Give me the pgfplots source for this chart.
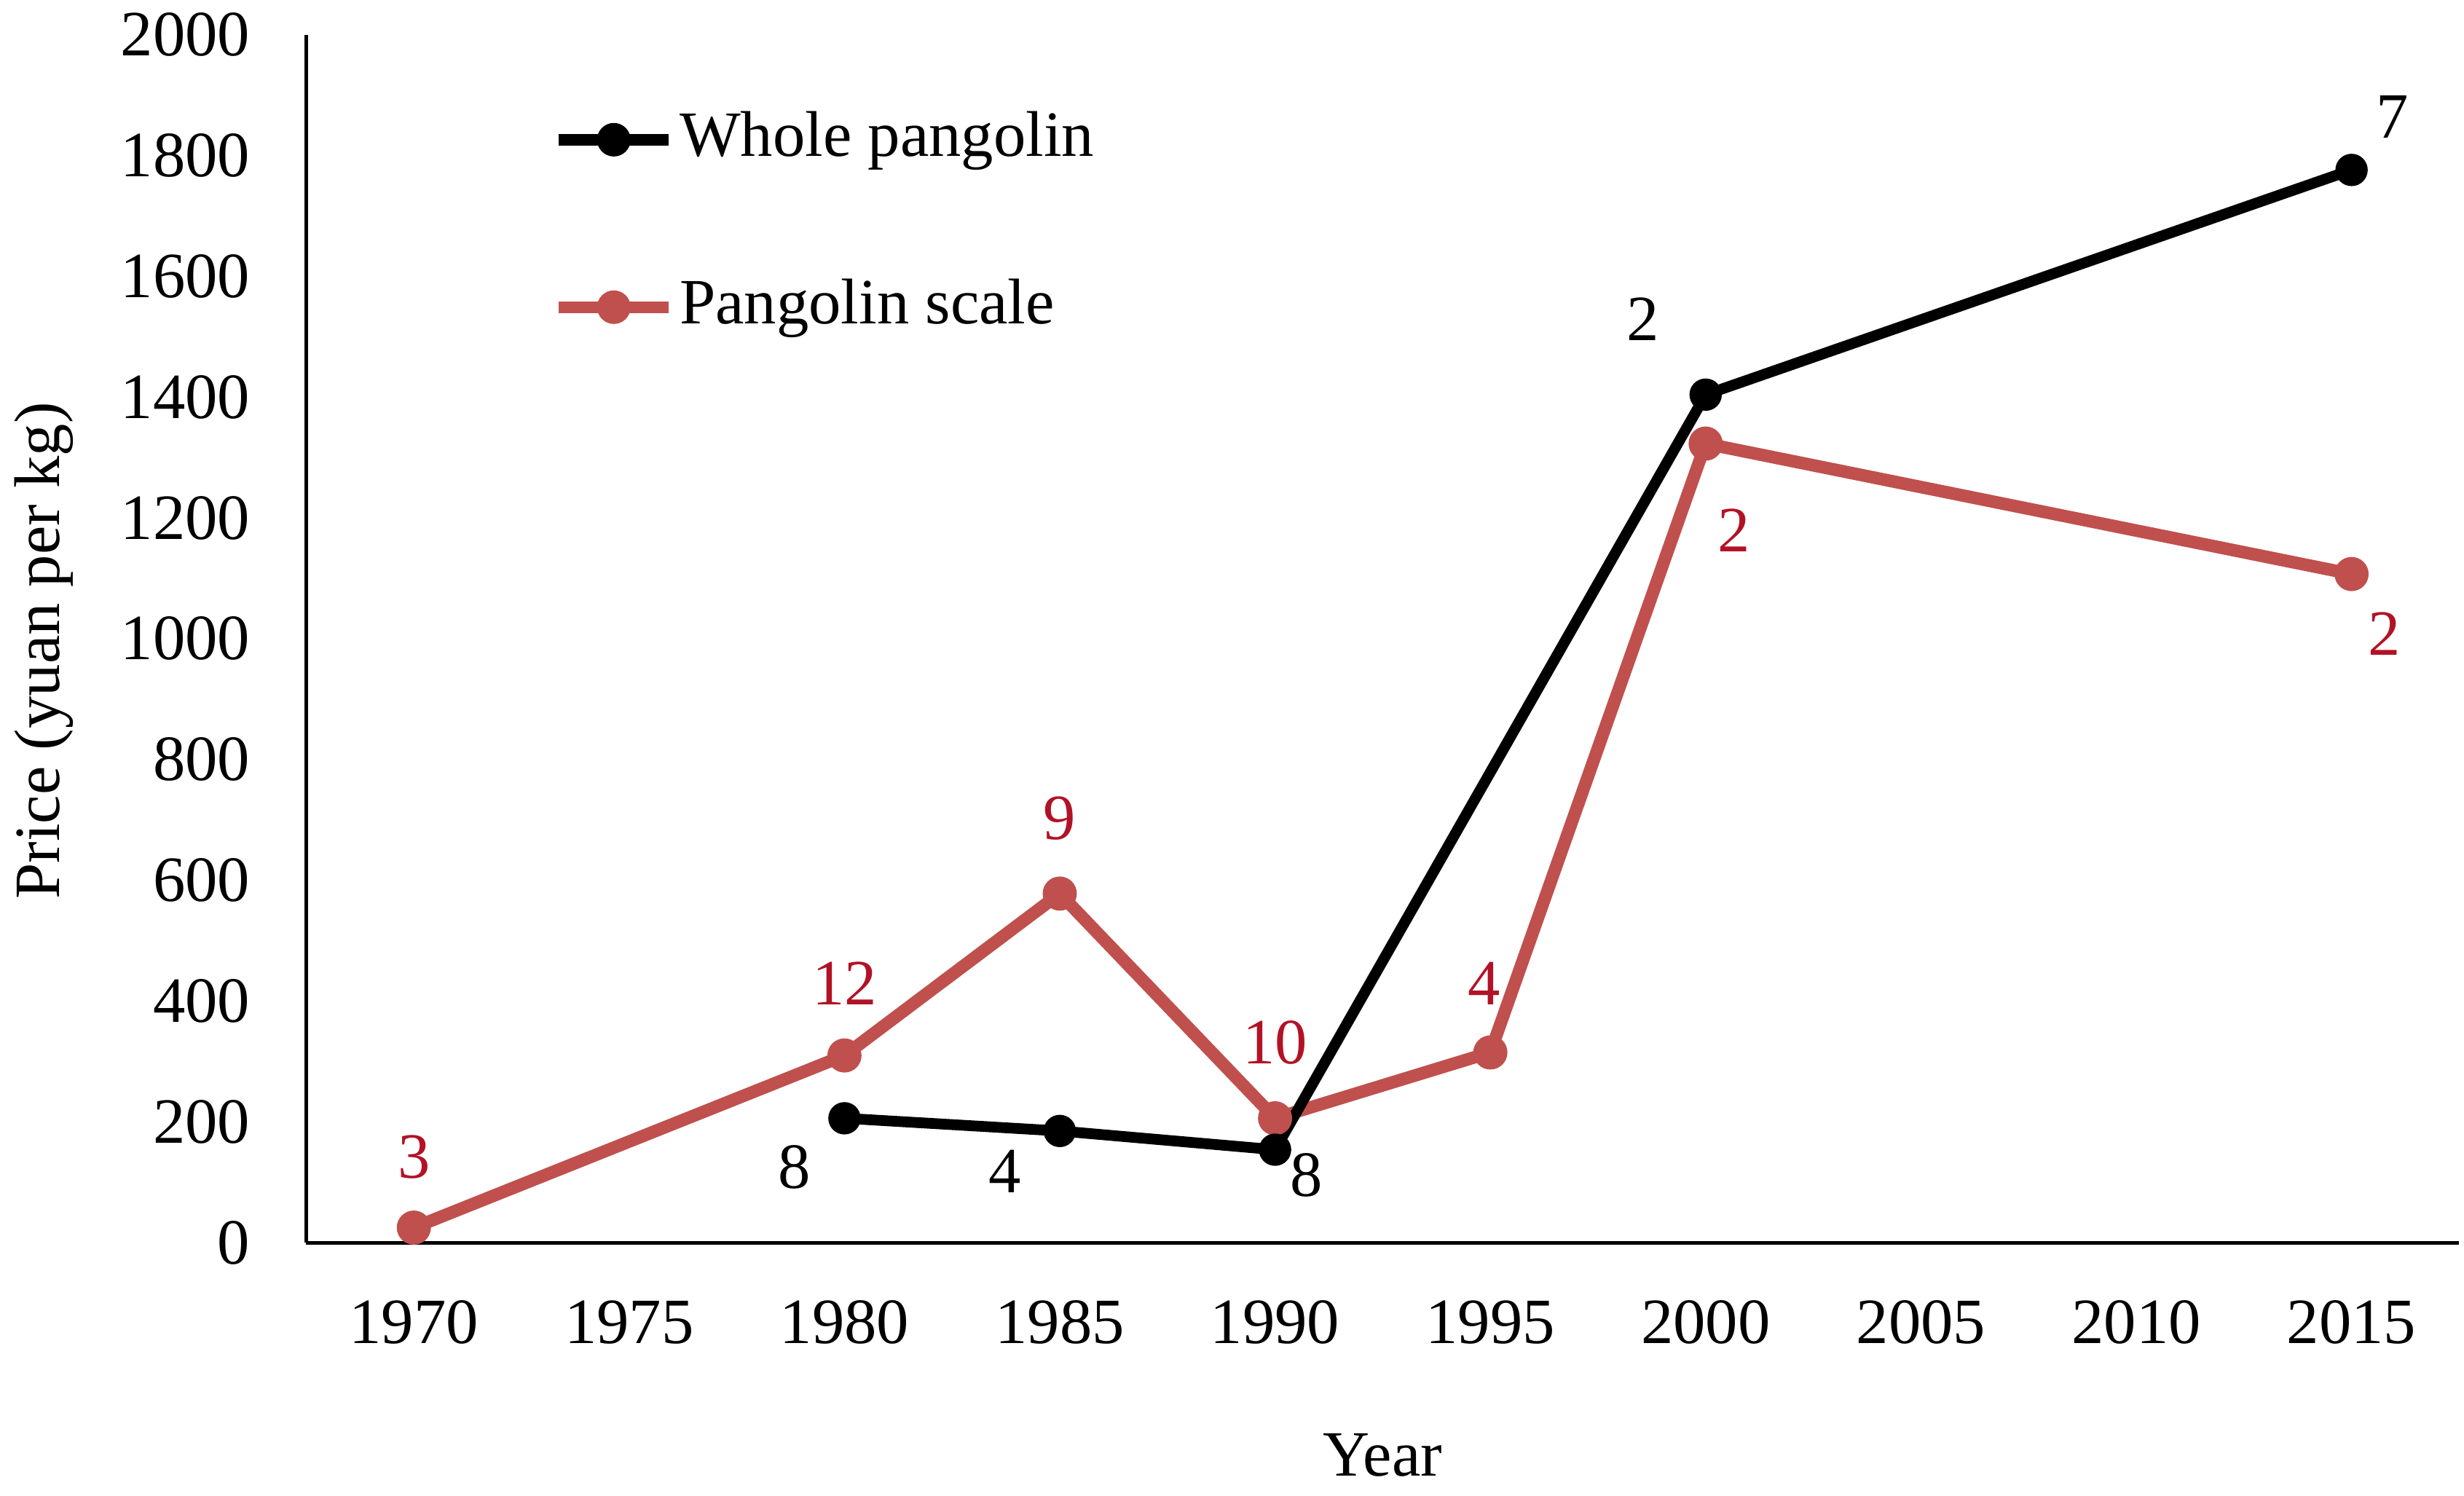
\documentclass[border=0pt]{standalone}
\usepackage{fontspec}
\setmainfont{Liberation Serif}
\usepackage{pgfplots}
\pgfplotsset{compat=1.18}
\usepackage{pgfplotstable}
\definecolor{scaleline}{RGB}{192,80,77}
\definecolor{scaletext}{RGB}{178,18,38}

\pgfplotstableread{
year price lab dx dy
1970 25 3 0 11.8
1980 310 12 0 12.0
1985 578 9 0 12.6
1990 206 10 0 12.6
1995 315 4 -1 11.5
2000 1323 2 4.7 -14.5
2015 1107 2 5.5 -10
}\scaletab

\pgfplotstableread{
year price lab dx dy
1980 206 8 -8.4 -8.2
1985 185 4 -9.2 -6.8
1990 154 8 5.3 -4.2
2000 1404 2 -10.5 12.6
2015 1776 7 6.8 8.9
}\wholetab

\begin{document}
\fontsize{10.8}{13}\selectfont
\begin{tikzpicture}
\begin{axis}[
  name=ax,
  scale only axis,
  width=360pt, height=202pt,
  xmin=1967.5, xmax=2017.5,
  ymin=0, ymax=2000,
  axis x line*=bottom,
  axis y line*=left,
  axis line style={line width=0.6pt, black},
  xtick={1970,1975,...,2015},
  ytick={0,200,...,2000},
  tick style={draw=none},
  major tick length=0pt,
  /pgf/number format/assume math mode=true,
  /pgf/number format/1000 sep={},
  every tick label/.append style={font=\fontsize{10.8}{13}\selectfont, inner sep=0pt},
  xticklabel style={anchor=north, yshift=-9.5pt},
  yticklabel style={anchor=east, xshift=-9.2pt},
  xlabel={Year},
  ylabel={Price (yuan per kg)},
  xlabel style={at={(axis description cs:0.5,-0.176)}, anchor=center, font=\fontsize{10.8}{13}\selectfont},
  ylabel style={at={(axis description cs:-0.1217,0.49)}, anchor=center, rotate=0, font=\fontsize{10.8}{13}\selectfont},
  clip=false,
  legend style={at={(axis description cs:0.114,0.94)}, anchor=north west, draw=none, fill=none,
    inner sep=0pt, row sep=17.5pt, font=\fontsize{10.8}{13}\selectfont,
    nodes={inner sep=0pt, text height=8pt, text depth=2.5pt}},
  legend cell align=left,
  legend image code/.code={\draw[mark repeat=2,mark phase=2,#1] plot coordinates {(0pt,0pt) (9.2pt,0pt) (18.4pt,0pt)}; \path (19.2pt,0pt);},
  nodes near coords={\pgfplotspointmeta},
  point meta=explicit symbolic,
  visualization depends on={\thisrow{dx} \as \ddx},
  visualization depends on={\thisrow{dy} \as \ddy},
]
\addlegendimage{black, line width=2pt, mark=*, mark size=1.8pt}
\addlegendentry{Whole pangolin}
\addlegendimage{scaleline, line width=2pt, mark=*, mark size=1.8pt}
\addlegendentry{Pangolin scale}

\addplot[forget plot, scaleline, line width=2.1pt, mark=*, mark size=1.8pt,
  every node near coord/.append style={anchor=center, xshift=\ddx pt, yshift=\ddy pt, text=scaletext, font=\fontsize{10.8}{13}\selectfont}]
  table[x=year, y=price, meta=lab] {\scaletab};
\addplot[forget plot, black, line width=1.8pt, mark=*, mark size=1.8pt,
  every node near coord/.append style={anchor=center, xshift=\ddx pt, yshift=\ddy pt, text=black, font=\fontsize{10.8}{13}\selectfont}]
  table[x=year, y=price, meta=lab] {\wholetab};
\end{axis}
\pgfresetboundingbox
\path[use as bounding box] ([shift={(-51.2pt,-42.3pt)}]ax.south west) rectangle ([shift={(0.8pt,5.8pt)}]ax.north east);
\end{tikzpicture}
\end{document}
